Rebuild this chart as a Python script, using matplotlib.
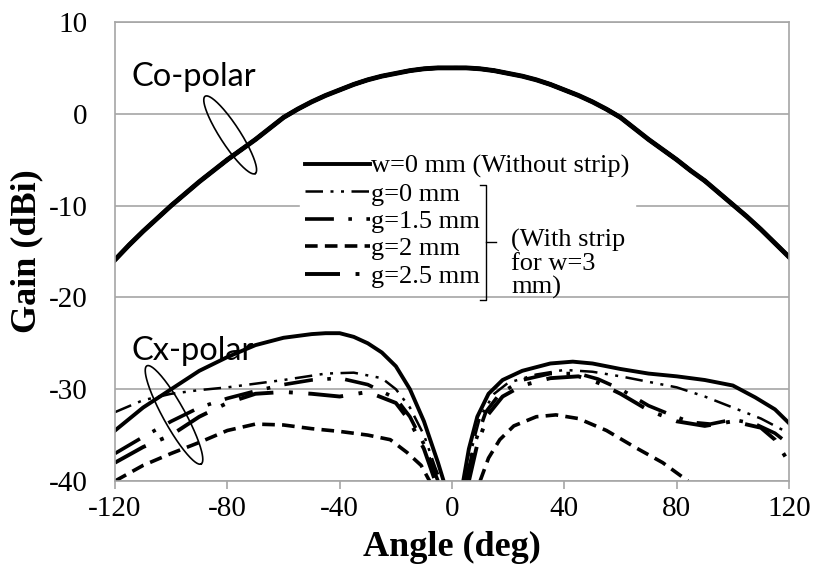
import numpy as np
import matplotlib
matplotlib.use("Agg")
from matplotlib import pyplot as plt
from matplotlib.lines import Line2D

plt.rcParams["axes.unicode_minus"] = False

# co-polar (all cases overlap)
co_ang = [-120, -115, -110, -105, -100, -95, -90, -85, -80, -75, -70, -65, -60, -55, -50,
          -45, -40, -35, -30, -25, -20, -15, -10, -5, 0,
          5, 10, 15, 20, 25, 30, 35, 40, 45, 50, 55, 60, 65, 70, 75, 80, 85, 90,
          95, 100, 105, 110, 115, 120]
co_gain = [-15.9, -14.3, -12.8, -11.4, -10.0, -8.7, -7.4, -6.2, -5.0, -3.9, -2.8, -1.6, -0.4, 0.5, 1.3,
           2.0, 2.6, 3.2, 3.7, 4.1, 4.4, 4.7, 4.9, 5.0, 5.0,
           5.0, 4.9, 4.7, 4.4, 4.1, 3.7, 3.2, 2.6, 2.0, 1.3, 0.5, -0.4, -1.6, -2.8, -3.9, -5.0, -6.2, -7.3,
           -8.6, -9.9, -11.2, -12.6, -14.1, -15.6]

# cx-polar, left and right lobes
w0_l_ang = [-120, -110, -100, -90, -80, -70, -60, -50, -45, -40, -35, -30, -25, -20, -15, -10, -5, -3]
w0_l = [-34.5, -32.0, -30.0, -28.0, -26.5, -25.2, -24.4, -24.0, -23.9, -23.9, -24.3, -25.0, -26.0, -27.5, -30.0, -33.5, -38.0, -40.0]
w0_r_ang = [4, 6, 9, 13, 18, 25, 35, 43, 50, 60, 70, 80, 90, 100, 108, 115, 120]
w0_r = [-40.0, -36.5, -33.0, -30.5, -29.0, -28.0, -27.2, -27.0, -27.2, -27.8, -28.3, -28.6, -29.0, -29.6, -30.9, -32.2, -33.7]

g0_l_ang = [-120, -110, -100, -90, -80, -70, -60, -45, -35, -25, -20, -15, -10, -6, -4]
g0_l = [-32.5, -31.2, -30.5, -30.1, -29.8, -29.4, -29.0, -28.3, -28.2, -28.8, -30.0, -32.0, -35.0, -38.5, -40.0]
g0_r_ang = [5, 7, 10, 15, 20, 30, 40, 50, 60, 70, 80, 90, 100, 110, 120]
g0_r = [-40.0, -36.5, -33.0, -30.5, -29.3, -28.4, -27.9, -28.1, -28.6, -29.2, -29.8, -30.8, -32.0, -33.2, -34.8]

g15_l_ang = [-120, -110, -100, -90, -80, -70, -60, -50, -40, -30, -20, -15, -10, -5]
g15_l = [-37.0, -35.2, -33.5, -32.0, -31.0, -30.2, -29.5, -29.0, -28.8, -29.5, -31.0, -33.0, -36.0, -40.0]
g15_r_ang = [5, 8, 12, 17, 25, 35, 45, 52, 60, 70, 78, 85, 92, 100, 108, 115, 120]
g15_r = [-40.0, -36.0, -32.5, -30.5, -29.0, -28.3, -28.3, -28.9, -30.0, -31.8, -32.8, -33.6, -33.8, -33.3, -33.8, -34.8, -36.0]

g2_l_ang = [-120, -110, -100, -90, -80, -70, -60, -50, -40, -30, -22, -16, -11, -8]
g2_l = [-40.0, -38.3, -37.0, -35.8, -34.5, -33.8, -33.9, -34.3, -34.6, -35.0, -35.5, -36.9, -38.3, -40.0]
g2_r_ang = [10, 13, 17, 22, 30, 37, 45, 55, 65, 75, 84]
g2_r = [-40.0, -37.5, -35.5, -34.0, -33.0, -32.8, -33.2, -34.5, -36.3, -38.0, -40.0]

g25_l_ang = [-120, -110, -100, -90, -80, -70, -60, -50, -40, -30, -20, -15, -10, -6]
g25_l = [-38.0, -36.3, -35.0, -33.0, -31.5, -30.5, -30.3, -30.5, -30.8, -30.3, -31.5, -33.5, -36.5, -40.0]
g25_r_ang = [6, 9, 13, 18, 25, 35, 45, 52, 60, 70, 80, 90, 100, 110, 115, 120]
g25_r = [-40.0, -36.0, -32.7, -30.8, -29.6, -28.8, -28.6, -29.3, -30.5, -32.3, -33.5, -34.0, -33.5, -34.2, -35.5, -38.0]

labels = ["w=0 mm (Without strip)", "g=0 mm", "g=1.5 mm", "g=2 mm", "g=2.5 mm"]
x_ticks = [-120, -80, -40, 0, 40, 80, 120]
y_ticks = [10, 0, -10, -20, -30, -40]

serif = "Liberation Serif"

styles = [
    dict(lw=2.8, ls="-"),
    dict(lw=1.8, ls=(0, (7, 3, 1.2, 3, 1.2, 3))),
    dict(lw=2.6, ls=(0, (8, 4, 1, 4))),
    dict(lw=2.6, ls=(0, (3.5, 2))),
    dict(lw=2.8, ls=(0, (9, 4, 1, 4))),
]
cx_data = [
    (w0_l_ang, w0_l, w0_r_ang, w0_r),
    (g0_l_ang, g0_l, g0_r_ang, g0_r),
    (g15_l_ang, g15_l, g15_r_ang, g15_r),
    (g2_l_ang, g2_l, g2_r_ang, g2_r),
    (g25_l_ang, g25_l, g25_r_ang, g25_r),
]

fig = plt.figure(figsize=(8.13, 5.77), dpi=100)
ax = fig.add_axes([0.1415, 0.1664, 0.829, 0.7955])

for st, (la, lg, ra, rg) in zip(styles, cx_data):
    ax.plot(co_ang, co_gain, color="black", **st)
    ax.plot(la, lg, color="black", **st)
    ax.plot(ra, rg, color="black", **st)
ax.plot(co_ang, co_gain, color="black", lw=3.5)

ax.set_xlim(-120, 120)
ax.set_ylim(-40, 10)
ax.set_xticks(x_ticks)
ax.set_yticks(y_ticks)
ax.grid(axis="y", color="#a6a6a6", lw=1.2)
ax.set_axisbelow(True)
for s in ax.spines.values():
    s.set_color("#a6a6a6")
    s.set_linewidth(1.2)
ax.tick_params(axis="x", length=6, color="#a6a6a6", width=1.2, pad=5)
ax.tick_params(axis="y", length=0, pad=20)
for t in ax.get_xticklabels() + ax.get_yticklabels():
    t.set_family(serif)
    t.set_fontsize(21)
ax.set_xlabel("Angle (deg)", family=serif, fontsize=26, fontweight="bold", labelpad=6)
ax.set_ylabel("Gain (dBi)", family=serif, fontsize=26, fontweight="bold", labelpad=4)

# region labels and ellipses
ax.text(-114, 3.0, "Co-polar", family=["Lato", "DejaVu Sans"], fontsize=23.5)
ax.text(-114, -26.8, "Cx-polar", family=["Lato", "DejaVu Sans"], fontsize=23.5)

def ellipse(cx, cy, a, b, theta):
    t = np.linspace(0, 2 * np.pi, 200)
    th = np.deg2rad(theta)
    dx = a * np.cos(t) * np.cos(th) - b * np.sin(t) * np.sin(th)
    dy = a * np.cos(t) * np.sin(th) + b * np.sin(t) * np.cos(th)
    # pixel -> data (2.81 px/deg, 9.17 px/dB)
    ax.plot(cx + dx / 2.81, cy + dy / 9.17, color="black", lw=1.2, zorder=6)

ellipse(-79, -2.3, 46, 10, -57)
ellipse(-99, -32.8, 56, 11, -61)

handles = [Line2D([], [], color="black", **st) for st in styles]
leg = ax.legend(handles, labels, loc="upper left", bbox_to_anchor=(0.255, 0.752),
                prop={"family": serif, "size": 19}, handlelength=2.45, handletextpad=0.05,
                labelspacing=0.15, borderpad=0.2, frameon=True, fancybox=False,
                facecolor="white", edgecolor="white", framealpha=1)
leg.set_zorder(5)

# bracket for strip cases
bx, by0, by1, bym = 0.551, 0.395, 0.645, 0.52
ax.plot([bx - 0.01, bx, bx, bx - 0.01], [by1, by1, by0, by0], transform=ax.transAxes,
        color="black", lw=1.0, zorder=7, clip_on=False)
ax.plot([bx, bx + 0.014], [bym, bym], transform=ax.transAxes, color="black", lw=1.0,
        zorder=7, clip_on=False)
ax.text(0.588, 0.55, "(With strip\nfor w=3\nmm)", transform=ax.transAxes, family=serif,
        fontsize=19, va="top", ha="left", linespacing=1.08, zorder=7)

fig.savefig("out.png", dpi=100)
